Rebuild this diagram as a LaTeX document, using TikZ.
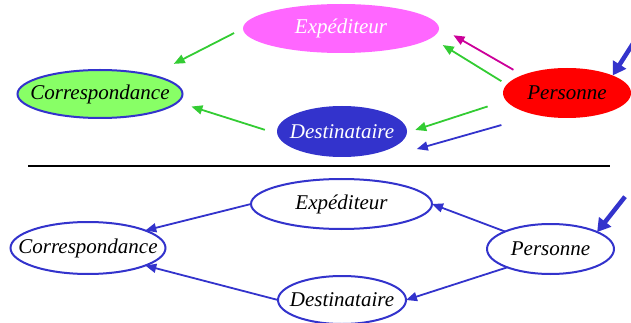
\documentclass[tikz,border=0pt]{standalone}
\usepackage{fontspec}
\setmainfont{Liberation Serif}
\usetikzlibrary{arrows.meta,shapes.geometric}
\definecolor{rose}{RGB}{255,102,255}
\definecolor{vertclair}{RGB}{136,255,102}
\definecolor{bleu}{RGB}{51,51,204}
\definecolor{vert}{RGB}{51,204,51}
\definecolor{pourpre}{RGB}{204,0,153}
\newcommand{\etiquette}[1]{\makebox[0pt]{#1}}

\begin{document}
\begin{tikzpicture}[x=1pt, y=-1pt, font=\fontsize{21}{24}\selectfont\itshape,
      ent/.style={ellipse, inner sep=0pt, outer sep=0pt},
      trait/.style={draw=bleu, line width=2pt},
      fl/.style={-{Triangle[length=11pt,width=9pt]}, line width=1.8pt},
      gros/.style={-{Triangle[length=13pt,width=15pt]}, line width=4.5pt, draw=bleu}]

    \useasboundingbox (0,0) rectangle (631,323);

    % en haut : modele colore
    \node[ent, fill=rose, text=white, minimum width=196pt, minimum height=49pt] (exp1) at (341,28.5) {\etiquette{Expéditeur}};
    \node[ent, trait, fill=vertclair, minimum width=165pt, minimum height=48pt] (corr1) at (100,94) {\etiquette{Correspondance}};
    \node[ent, fill=bleu, text=white, minimum width=130pt, minimum height=51pt] (dest1) at (342,131.5) {\etiquette{Destinataire}};
    \node[ent, fill=red, minimum width=128pt, minimum height=50pt] (pers1) at (567,93) {\etiquette{Personne}};
    \coordinate (enhaut) at (641,31);

    \draw[fl, draw=vert, fill=vert, shorten <=10pt, shorten >=25pt] (exp1.180) -- (corr1.20.2);
    \draw[fl, draw=vert, fill=vert, shorten <=13pt, shorten >=14.5pt] (dest1.182.2) -- (corr1.-6);
    \draw[fl, draw=pourpre, fill=pourpre, shorten <=10.5pt, shorten >=17pt] (pers1.158.8) -- (exp1.1.7);
    \draw[fl, draw=vert, fill=vert, shorten <=6.4pt, shorten >=13.4pt] (pers1.172.8) -- (exp1.-6.85);
    \draw[fl, draw=vert, fill=vert, shorten <=19.3pt, shorten >=8.7pt] (pers1.187.5) -- (dest1.-1.9);
    \draw[fl, draw=bleu, fill=bleu, shorten <=36.7pt, shorten >=28.2pt] (pers1.-144.8) -- ([yshift=-7.9pt]dest1.-20);
    \draw[gros, fill=bleu] (enhaut) -- (pers1.21.4);

    \draw[line width=1.2pt] (28,166) -- (610,166);

    % en bas : meme modele au trait
    \node[ent, trait, minimum width=181pt, minimum height=50pt] (exp2) at (341.5,204) {\etiquette{Expéditeur}};
    \node[ent, trait, minimum width=155pt, minimum height=52pt] (corr2) at (88,248) {\etiquette{Correspondance}};
    \node[ent, trait, minimum width=128pt, minimum height=48pt] (dest2) at (342,300) {\etiquette{Destinataire}};
    \node[ent, trait, minimum width=127pt, minimum height=50pt] (pers2) at (550.5,249) {\etiquette{Personne}};
    \coordinate (enbas) at (625,196.7);

    \draw[fl, draw=bleu, fill=bleu] (exp2.west) -- (corr2.17.5);
    \draw[fl, draw=bleu, fill=bleu] (dest2.west) -- (corr2.-17.7);
    \draw[fl, draw=bleu, fill=bleu] (pers2.159.1) -- (exp2.east);
    \draw[fl, draw=bleu, fill=bleu] (pers2.-157.8) -- (dest2.east);
    \draw[gros, fill=bleu] (enbas) -- (pers2.20.9);
  \end{tikzpicture}
\end{document}
